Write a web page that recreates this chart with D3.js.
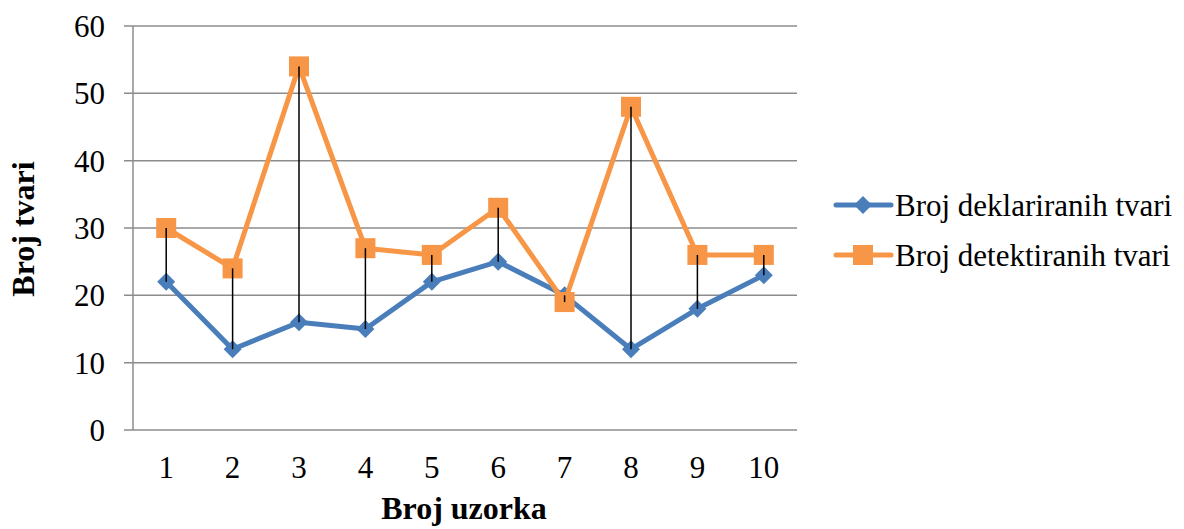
<!DOCTYPE html>
<html lang="hr">
<head>
<meta charset="UTF-8">
<title>Broj tvari</title>
<script src="https://d3js.org/d3.v7.min.js"></script>
<style>
    body { margin: 0; background: #fff; }
    svg text { font-family: 'Liberation Serif', 'Tinos', 'Times New Roman', 'DejaVu Serif', serif; fill: #000; }
</style>
</head>
<body>
<div id="chart"></div>
<script>
    // data
    const samples = [1, 2, 3, 4, 5, 6, 7, 8, 9, 10];
    const declared = [22, 12, 16, 15, 22, 25, 20, 12, 18, 23];
    const detected = [30, 24, 54, 27, 26, 33, 19, 48, 26, 26];
    const yTicks = [0, 10, 20, 30, 40, 50, 60];
    const seriesNames = ["Broj deklariranih tvari", "Broj detektiranih tvari"];

    const W = 1184, H = 529;
    const margin = { top: 26, right: 387, bottom: 99, left: 133 };
    const width = W - margin.left - margin.right,
        height = H - margin.top - margin.bottom;

    const svg = d3.select("#chart").append("svg")
        .attr("width", W).attr("height", H);
    const g = svg.append("g")
        .attr("transform", `translate(${margin.left},${margin.top})`);

    const x = d3.scaleBand().domain(samples).range([0, width]);
    const y = d3.scaleLinear().domain([0, 60]).range([height, 0]);
    const cx = d => x(d) + x.bandwidth() / 2;

    // gridlines with little ticks left of the axis
    g.selectAll(".grid").data(yTicks).enter().append("line")
        .attr("x1", -9).attr("x2", width)
        .attr("y1", d => y(d)).attr("y2", d => y(d))
        .attr("stroke", "#8c8c8c").attr("stroke-width", 1.5);

    g.append("line")
        .attr("x1", 0).attr("x2", 0).attr("y1", 0).attr("y2", height)
        .attr("stroke", "#8c8c8c").attr("stroke-width", 1.5);

    g.selectAll(".ylab").data(yTicks).enter().append("text")
        .attr("x", -28).attr("y", d => y(d))
        .attr("dy", "0.35em").attr("text-anchor", "end")
        .attr("font-size", 31).text(d => d);

    g.selectAll(".xlab").data(samples).enter().append("text")
        .attr("x", d => cx(d)).attr("y", height + 48)
        .attr("dy", "0")
        .attr("text-anchor", "middle").attr("font-size", 31).text(d => d);

    const hiLo = cls => g.selectAll("." + cls).data(samples).enter().append("line")
        .attr("x1", d => cx(d)).attr("x2", d => cx(d))
        .attr("y1", (d, i) => y(Math.min(declared[i], detected[i])))
        .attr("y2", (d, i) => y(Math.max(declared[i], detected[i])))
        .attr("stroke", "#000").attr("stroke-width", 1.5);

    const line = vals => d3.line()
        .x((d, i) => cx(samples[i]))
        .y(d => y(d))(vals);

    const blue = "#4a7ebb", orange = "#f79646";

    g.append("path").attr("d", line(declared))
        .attr("fill", "none").attr("stroke", blue).attr("stroke-width", 5)
        .attr("stroke-linejoin", "round");
    g.selectAll(".dia").data(declared).enter().append("path")
        .attr("d", "M0,-9L9,0L0,9L-9,0Z")
        .attr("transform", (d, i) => `translate(${cx(samples[i])},${y(d)})`)
        .attr("fill", blue);

    g.append("path").attr("d", line(detected))
        .attr("fill", "none").attr("stroke", orange).attr("stroke-width", 5)
        .attr("stroke-linejoin", "round");
    g.selectAll(".sq").data(detected).enter().append("rect")
        .attr("x", (d, i) => cx(samples[i]) - 10).attr("y", d => y(d) - 10)
        .attr("width", 20).attr("height", 20)
        .attr("fill", orange);

    // high-low lines on top of the markers
    hiLo("hl");

    // axis titles
    svg.append("text")
        .attr("x", margin.left + width / 2 - 1).attr("y", 519)
        .attr("text-anchor", "middle").attr("font-size", 32).attr("font-weight", "bold")
        .text("Broj uzorka");
    svg.append("text")
        .attr("transform", `translate(34,${margin.top + height / 2 + 1}) rotate(-90)`)
        .attr("text-anchor", "middle").attr("font-size", 32).attr("font-weight", "bold")
        .text("Broj tvari");

    // legend
    const leg = svg.append("g").attr("transform", "translate(836,205)");
    [blue, orange].forEach((c, i) => {
        const row = leg.append("g").attr("transform", `translate(0,${i * 50})`);
        row.append("line").attr("x1", 0).attr("x2", 55).attr("y1", 0).attr("y2", 0)
            .attr("stroke", c).attr("stroke-width", 5).attr("stroke-linecap", "round");
        if (i === 0) {
            row.append("path").attr("d", "M0,-9L9,0L0,9L-9,0Z")
                .attr("transform", "translate(27,0)").attr("fill", c);
        } else {
            row.append("rect").attr("x", 17).attr("y", -10)
                .attr("width", 20).attr("height", 20).attr("fill", c);
        }
        row.append("text").attr("x", 59).attr("y", 0).attr("dy", "0.35em")
            .attr("font-size", 31).text(seriesNames[i]);
    });
</script>
</body>
</html>
